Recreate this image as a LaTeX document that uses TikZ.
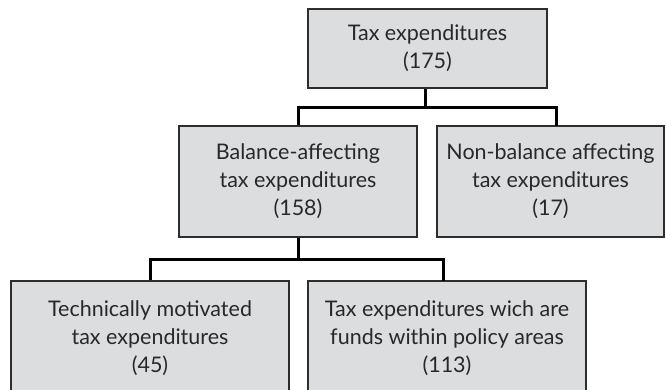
\documentclass[tikz,border=0pt]{standalone}
\usepackage{fontspec}
\setmainfont{Lato}
\definecolor{boxfill}{RGB}{220,221,223}
\definecolor{boxline}{RGB}{45,45,45}
\definecolor{txt}{RGB}{40,40,40}
\begin{document}
\begin{tikzpicture}[x=1pt,y=-1pt,
  box/.style={draw=boxline, line width=1.5pt, fill=boxfill, inner sep=0pt,
    align=center, font=\fontsize{21.5}{28}\selectfont, text=txt},
  conn/.style={draw=black, line width=3pt, line join=miter}]
\useasboundingbox (0,0) rectangle (666,390);
\clip (0,0) rectangle (666,390);
\node[box, minimum width=239, minimum height=79] (top) at (427.5,48.5) {Tax expenditures\\(175)};
\node[box, minimum width=238, minimum height=111] (bal) at (298,181.5) {Balance-affecting\\tax expenditures\\(158)};
\node[box, minimum width=227, minimum height=111] (nb) at (550.5,181.5) {Non-balance affecting\\tax expenditures\\(17)};
\node[box, minimum width=278, minimum height=114] (tech) at (150,338) {Technically motivated\\tax expenditures\\(45)};
\node[box, minimum width=278, minimum height=114] (fund) at (447,338) {Tax expenditures wich are\\funds within policy areas\\(113)};
\coordinate (j1) at (425,108);
\coordinate (nbt) at (556,126);
\coordinate (j2) at (298,259);
\coordinate (fdt) at (443,281);
\draw[conn] (top.south -| j1) -- (j1);
\draw[conn] (bal.north) -- (bal.north |- j1) -- (j1 -| nbt) -- (nbt);
\draw[conn] (bal.south) -- (j2);
\draw[conn] (tech.north) -- (tech.north |- j2) -- (j2 -| fdt) -- (fdt);
\end{tikzpicture}
\end{document}
